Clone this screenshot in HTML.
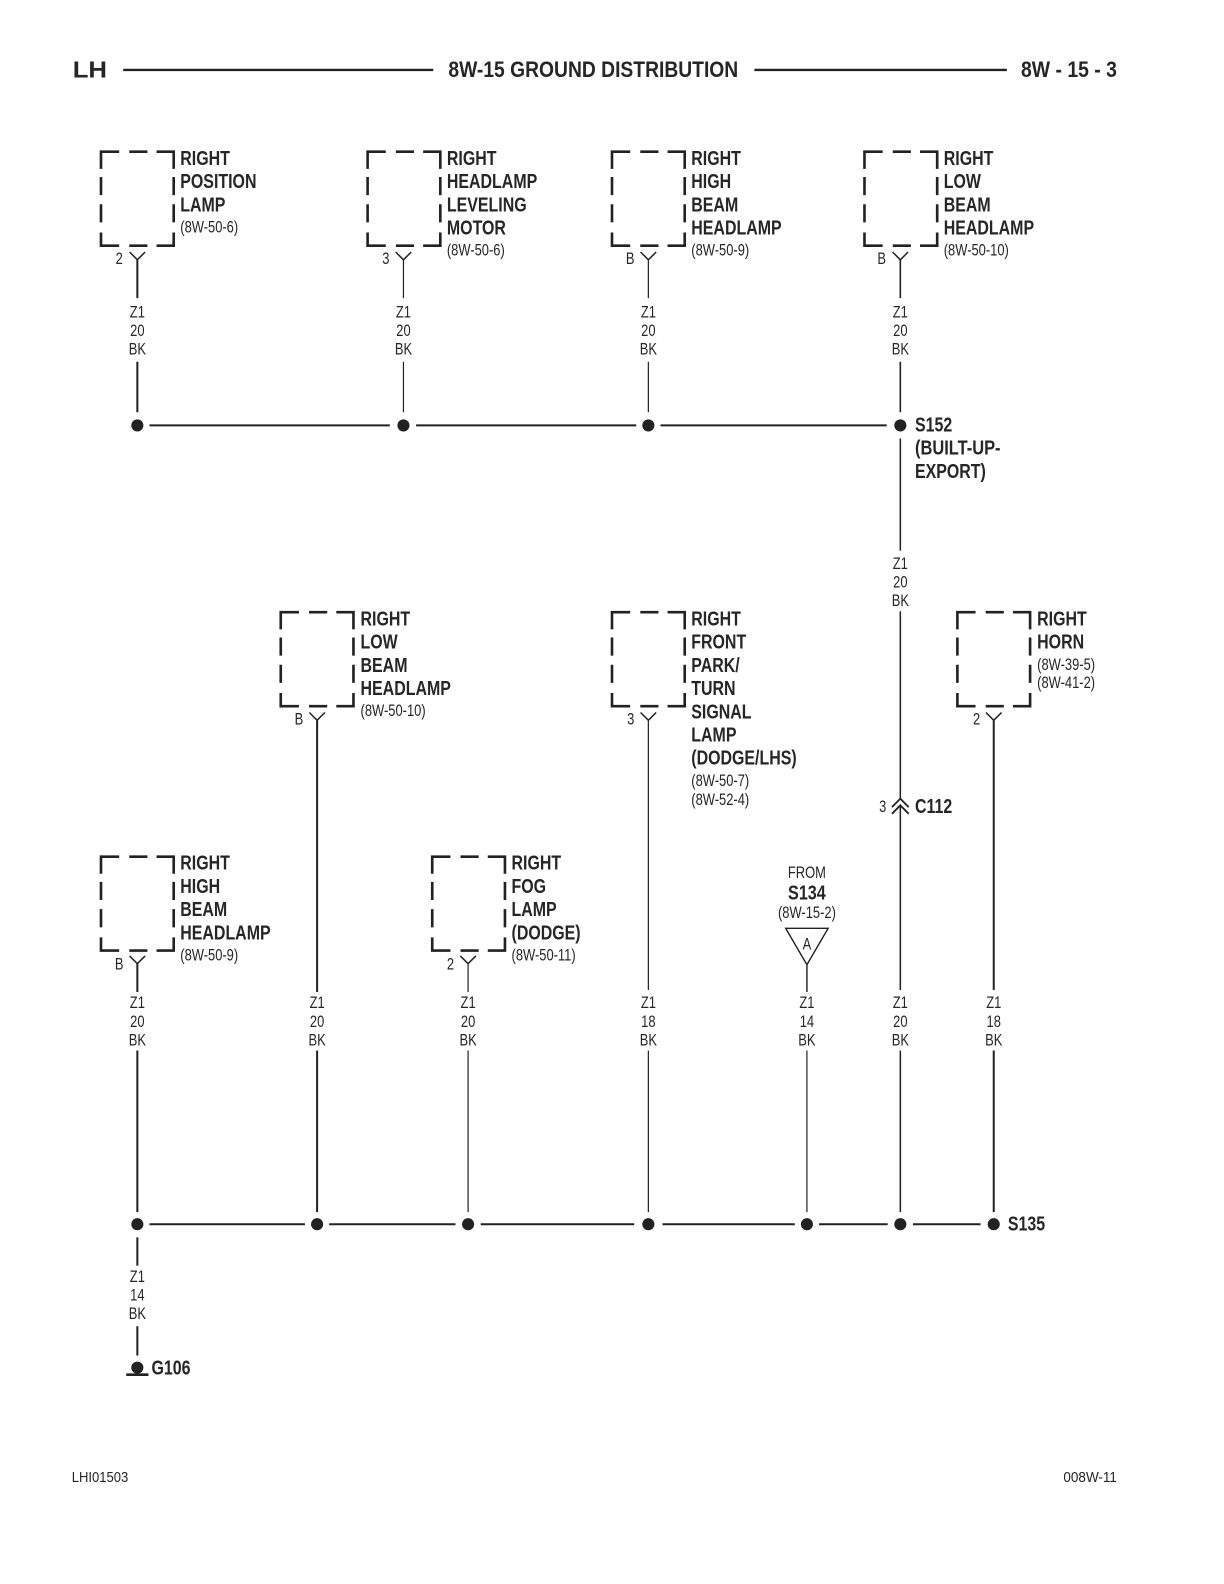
<!DOCTYPE html>
<html><head><meta charset="utf-8"><style>
html,body{margin:0;padding:0;background:#fff}
svg{display:block}
text{font-family:"Liberation Sans",sans-serif;fill:#262626}
.b{font-weight:700;font-size:20px}
.r{font-size:16.2px}
.m{font-size:16px;text-anchor:middle}
.bm{font-weight:700;font-size:20px;text-anchor:middle}
.w{stroke:#222;stroke-width:2;fill:none}
.t{stroke:#222;stroke-width:1.2;fill:none}
.d{fill:#222}
</style></head><body>
<svg width="1224" height="1584" viewBox="0 0 1212 1568" xmlns="http://www.w3.org/2000/svg">
<defs>
<g id="box" fill="none" stroke="#222" stroke-width="2.6">
<path d="M0 17V0H18M28 0H46M55 0H72V17M0 25V43M72 25V43M0 52V70M72 52V70M0 80V93H18M28 93H46M55 93H72V80"/>
</g>
<g id="y" fill="none" stroke="#222" stroke-width="1.5"><path d="M-7.7 -7.7L0 0L7.7 -7.7"/></g>
<g id="z"><text class="m" y="0">Z1</text><text class="m" y="18.5">20</text><text class="m" y="37">BK</text></g>
</defs>
<rect width="1212" height="1568" fill="#fff"/>

<!-- header -->
<text x="72" y="76.5" font-size="23" font-weight="700" textLength="34" lengthAdjust="spacingAndGlyphs">LH</text>
<path class="w" style="stroke-width:2.4" d="M122 69H429M747 69H997"/>
<text x="444" y="76" font-size="22" font-weight="700" textLength="287" lengthAdjust="spacingAndGlyphs">8W-15 GROUND DISTRIBUTION</text>
<text x="1011" y="76" font-size="22" font-weight="700" textLength="95" lengthAdjust="spacingAndGlyphs">8W - 15 - 3</text>

<!-- boxes -->
<use href="#box" x="100" y="150"/><use href="#box" x="364" y="150"/><use href="#box" x="606" y="150"/><use href="#box" x="856" y="150"/>
<use href="#box" x="278" y="606"/><use href="#box" x="606" y="606"/><use href="#box" x="948" y="606" />
<use href="#box" x="100" y="848"/><use href="#box" x="428" y="848"/>

<!-- row 1 labels -->
<g transform="translate(178.5 0) scale(.79 1)"><text class="b" y="163">RIGHT</text><text class="b" y="186">POSITION</text><text class="b" y="209">LAMP</text><text class="r" y="230">(8W-50-6)</text></g>
<g transform="translate(442.5 0) scale(.79 1)"><text class="b" y="163">RIGHT</text><text class="b" y="186">HEADLAMP</text><text class="b" y="209">LEVELING</text><text class="b" y="232">MOTOR</text><text class="r" y="253">(8W-50-6)</text></g>
<g transform="translate(684.5 0) scale(.79 1)"><text class="b" y="163">RIGHT</text><text class="b" y="186">HIGH</text><text class="b" y="209">BEAM</text><text class="b" y="232">HEADLAMP</text><text class="r" y="253">(8W-50-9)</text></g>
<g transform="translate(934.5 0) scale(.79 1)"><text class="b" y="163">RIGHT</text><text class="b" y="186">LOW</text><text class="b" y="209">BEAM</text><text class="b" y="232">HEADLAMP</text><text class="r" y="253">(8W-50-10)</text></g>

<!-- row 1 pins -->
<g transform="translate(118 261) scale(.8 1)"><text class="m">2</text></g>
<g transform="translate(382 261) scale(.8 1)"><text class="m">3</text></g>
<g transform="translate(624 261) scale(.8 1)"><text class="m">B</text></g>
<g transform="translate(873 261) scale(.8 1)"><text class="m">B</text></g>
<use href="#y" x="136" y="257"/><use href="#y" x="399.5" y="257"/><use href="#y" x="642" y="257"/><use href="#y" x="891.5" y="257"/>
<path class="w" d="M136 257V295M136 358V408"/>
<path class="t" d="M399.5 257V295M399.5 358V408M642 257V295M642 358V408"/>
<path class="w" style="stroke-width:1.6" d="M891.5 257V295M891.5 358V408"/>
<g transform="translate(136 314) scale(.8 1)"><use href="#z"/></g>
<g transform="translate(399.5 314) scale(.8 1)"><use href="#z"/></g>
<g transform="translate(642 314) scale(.8 1)"><use href="#z"/></g>
<g transform="translate(891.5 314) scale(.8 1)"><use href="#z"/></g>

<!-- bus 1 -->
<path class="w" d="M148 421H386M412 421H630M654 421H878"/>
<circle class="d" cx="136" cy="421" r="6"/><circle class="d" cx="399.5" cy="421" r="6"/><circle class="d" cx="642" cy="421" r="6"/><circle class="d" cx="891.5" cy="421" r="6"/>
<g transform="translate(906 0) scale(.79 1)"><text class="b" y="427">S152</text></g>
<g transform="translate(906 0) scale(.815 1)"><text class="b" y="450">(BUILT-UP-</text></g>
<g transform="translate(906 0) scale(.79 1)"><text class="b" y="473">EXPORT)</text></g>

<!-- right trunk -->
<path class="t" style="stroke-width:1.5" d="M891.5 434V545M891.5 605V791M891.5 797V980M891.5 1040V1200"/>
<g transform="translate(891.5 563) scale(.8 1)"><use href="#z"/></g>
<path class="t" style="stroke-width:1.8" d="M883.2 799L891.5 790.6L899.8 799M883.2 805.6L891.5 797.2L899.8 805.6"/>
<g transform="translate(874 804) scale(.8 1)"><text class="m">3</text></g>
<g transform="translate(906 0) scale(.79 1)"><text class="b" y="805">C112</text></g>

<!-- row 2 labels -->
<g transform="translate(357 0) scale(.79 1)"><text class="b" y="619">RIGHT</text><text class="b" y="642">LOW</text><text class="b" y="665">BEAM</text><text class="b" y="688">HEADLAMP</text><text class="r" y="709">(8W-50-10)</text></g>
<g transform="translate(684.5 0) scale(.79 1)"><text class="b" y="619">RIGHT</text><text class="b" y="642">FRONT</text><text class="b" y="665">PARK/</text><text class="b" y="688">TURN</text><text class="b" y="711">SIGNAL</text><text class="b" y="734">LAMP</text><text class="b" y="757">(DODGE/LHS)</text><text class="r" y="778">(8W-50-7)</text><text class="r" y="797">(8W-52-4)</text></g>
<g transform="translate(1027 0) scale(.79 1)"><text class="b" y="619">RIGHT</text><text class="b" y="642">HORN</text><text class="r" y="663">(8W-39-5)</text><text class="r" y="681">(8W-41-2)</text></g>

<g transform="translate(296 717) scale(.8 1)"><text class="m">B</text></g>
<g transform="translate(624.5 717) scale(.8 1)"><text class="m">3</text></g>
<g transform="translate(967 717) scale(.8 1)"><text class="m">2</text></g>
<use href="#y" x="314" y="713"/><use href="#y" x="642" y="713"/><use href="#y" x="984" y="713"/>

<!-- row 3 labels -->
<g transform="translate(178.5 0) scale(.79 1)"><text class="b" y="861">RIGHT</text><text class="b" y="884">HIGH</text><text class="b" y="907">BEAM</text><text class="b" y="930">HEADLAMP</text><text class="r" y="951">(8W-50-9)</text></g>
<g transform="translate(506.5 0) scale(.79 1)"><text class="b" y="861">RIGHT</text><text class="b" y="884">FOG</text><text class="b" y="907">LAMP</text><text class="b" y="930">(DODGE)</text><text class="r" y="951">(8W-50-11)</text></g>
<g transform="translate(118 960) scale(.8 1)"><text class="m">B</text></g>
<g transform="translate(446 960) scale(.8 1)"><text class="m">2</text></g>
<use href="#y" x="136" y="954"/><use href="#y" x="463.5" y="954"/>

<!-- FROM S134 -->
<g transform="translate(799 0) scale(.8 1)"><text class="m" y="869">FROM</text><text class="bm" y="890.5">S134</text><text class="m" y="909">(8W-15-2)</text><text class="m" y="940">A</text></g>
<path class="t" style="stroke-width:1.4" d="M778 919H820L799 955ZM799 955V982"/>

<!-- verticals to lower bus -->
<path class="w" d="M136 954V982M136 1040V1200M314 713V982M314 1040V1200M984 713V980M984 1040V1200"/>
<path class="t" d="M463.5 954V982M463.5 1040V1200M642 713V980M642 1040V1200M799 1040V1200"/>
<g transform="translate(136 998) scale(.8 1)"><use href="#z"/></g>
<g transform="translate(314 998) scale(.8 1)"><use href="#z"/></g>
<g transform="translate(463.5 998) scale(.8 1)"><use href="#z"/></g>
<g transform="translate(642 998) scale(.8 1)"><text class="m" y="0">Z1</text><text class="m" y="18.5">18</text><text class="m" y="37">BK</text></g>
<g transform="translate(799 998) scale(.8 1)"><text class="m" y="0">Z1</text><text class="m" y="18.5">14</text><text class="m" y="37">BK</text></g>
<g transform="translate(891.5 998) scale(.8 1)"><use href="#z"/></g>
<g transform="translate(984 998) scale(.8 1)"><text class="m" y="0">Z1</text><text class="m" y="18.5">18</text><text class="m" y="37">BK</text></g>

<!-- bus 2 -->
<path class="w" d="M148 1212H302M326 1212H451M476 1212H628M656 1212H787M811 1212H879M904 1212H971"/>
<circle class="d" cx="136" cy="1212" r="6"/><circle class="d" cx="314" cy="1212" r="6"/><circle class="d" cx="463.5" cy="1212" r="6"/><circle class="d" cx="642" cy="1212" r="6"/><circle class="d" cx="799" cy="1212" r="6"/><circle class="d" cx="891.5" cy="1212" r="6"/><circle class="d" cx="984" cy="1212" r="6"/>
<g transform="translate(998 0) scale(.79 1)"><text class="b" y="1218">S135</text></g>

<!-- ground -->
<path class="w" d="M136 1225V1253M136 1313V1342"/>
<g transform="translate(136 1269) scale(.8 1)"><text class="m" y="0">Z1</text><text class="m" y="18.5">14</text><text class="m" y="37">BK</text></g>
<circle class="d" cx="136" cy="1354" r="6"/>
<path class="w" style="stroke-width:2.6" d="M125 1361H147"/>
<g transform="translate(150 0) scale(.79 1)"><text class="b" y="1361">G106</text></g>

<!-- footer -->
<text x="71" y="1467" font-size="15" textLength="56" lengthAdjust="spacingAndGlyphs">LHI01503</text>
<text x="1053" y="1467" font-size="15" textLength="53" lengthAdjust="spacingAndGlyphs">008W-11</text>
</svg>
</body></html>
